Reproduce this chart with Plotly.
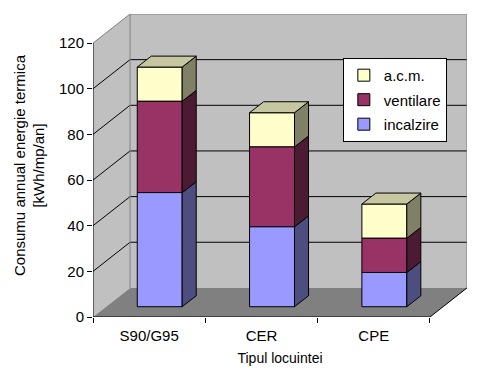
import plotly.graph_objects as go

# ---------------- data ----------------
categories = ["S90/G95", "CER", "CPE"]
incalzire = [50, 35, 15]
ventilare = [40, 35, 15]
acm = [15, 15, 15]
y_ticks = [0, 20, 40, 60, 80, 100, 120]

series = [
    ("incalzire", incalzire, "#9999FF", "#4D4D80"),
    ("ventilare", ventilare, "#993366", "#4D1A33"),
    ("a.c.m.", acm, "#FFFFCC", "#808066"),
]
top_color = "#C6C6A0"

# ---------------- 3D geometry (data units) ----------------
YMAX = 120
DX, DY = 0.33, 12.75        # wall depth offset
BX, BY = 0.094, 4.5         # bar front face offset
BW = 0.4                    # bar width
DDX, DDY = 0.125, 4.8       # bar depth offset
n = len(categories)
FONT = "Liberation Sans, Arial, sans-serif"

fig = go.Figure()

shapes = []
def poly(pts, fill=None, line=None, width=1):
    path = "M " + " L ".join(f"{x},{y}" for x, y in pts) + " Z"
    d = dict(type="path", path=path, xref="x", yref="y", layer="below",
             fillcolor=fill if fill else "rgba(0,0,0,0)",
             line=dict(color=line if line else "rgba(0,0,0,0)", width=width))
    shapes.append(d)

def seg(x0, y0, x1, y1, color, width=1):
    shapes.append(dict(type="line", x0=x0, y0=y0, x1=x1, y1=y1, xref="x", yref="y",
                       layer="below", line=dict(color=color, width=width)))

# walls
poly([(0, 0), (0, YMAX), (DX, YMAX + DY), (DX, DY)], fill="#C0C0C0")
poly([(DX, DY), (DX, YMAX + DY), (n + DX, YMAX + DY), (n + DX, DY)], fill="#C0C0C0")
poly([(0, 0), (n, 0), (n + DX, DY), (DX, DY)], fill="#808080")
# gridlines
for v in y_ticks[1:-1]:
    seg(0, v, DX, v + DY, "black")
    seg(DX, v + DY, n + DX, v + DY, "black")
# wall edges
seg(0, YMAX, DX, YMAX + DY, "#808080")
seg(DX, YMAX + DY, n + DX, YMAX + DY, "#808080")
seg(n + DX, YMAX + DY, n + DX, DY, "#808080")
seg(DX, DY, DX, YMAX + DY, "#808080")
# floor edges
seg(0, 0, n, 0, "black")
seg(n, 0, n + DX, DY, "black")
# value axis line
seg(0, 0, 0, YMAX, "black")

# ---------------- bars ----------------
base = [0] * n
bars = []
for name, vals, front, side in series:
    xs, ys = [], []
    for i, v in enumerate(vals):
        xr = i + 0.5 + BX + BW / 2
        b = base[i] + BY
        t = base[i] + v + BY
        xs += [xr, xr + DDX, xr + DDX, xr, xr, None]
        ys += [b, b + DDY, t + DDY, t, b, None]
    fig.add_trace(go.Scatter(x=xs, y=ys, fill="toself", fillcolor=side, mode="lines",
                             line=dict(color="black", width=1), showlegend=False,
                             hoverinfo="skip"))
    bars.append(go.Bar(
        name=name, x=[i + 0.5 + BX for i in range(n)], y=vals,
        base=[b + BY for b in base], width=BW, legendgroup=name,
        marker=dict(color=front, line=dict(color="black", width=1)),
    ))
    base = [b + v for b, v in zip(base, vals)]

# top faces
xs, ys = [], []
for i in range(n):
    xl = i + 0.5 + BX - BW / 2
    xr = xl + BW
    t = base[i] + BY
    xs += [xl, xr, xr + DDX, xl + DDX, xl, None]
    ys += [t, t, t + DDY, t + DDY, t, None]
fig.add_trace(go.Scatter(x=xs, y=ys, fill="toself", fillcolor=top_color, mode="lines",
                         line=dict(color="black", width=1), showlegend=False,
                         hoverinfo="skip"))

for b in reversed(bars):
    fig.add_trace(b)

# page body has an 8px margin: figure occupies (8..471, 8..366) of the window
fig.update_layout(
    width=463, height=358,
    margin=dict(l=85, r=4, t=6, b=49, autoexpand=False),
    paper_bgcolor="white", plot_bgcolor="white",
    barmode="overlay",
    shapes=shapes,
    font=dict(family=FONT, size=15, color="black"),
    showlegend=True,
    legend=dict(x=0.668, y=0.855, xanchor="left", yanchor="top",
                bgcolor="white", bordercolor="black", borderwidth=1,
                font=dict(size=15), tracegroupgap=2, traceorder="grouped"),
    xaxis=dict(range=[0, n + DX], showgrid=False, zeroline=False, showline=False,
               automargin=False,
               tickvals=[i + 0.5 for i in range(n)], ticktext=categories,
               ticks="", ticklabelstandoff=8,
               minor=dict(tickvals=list(range(n + 1)), ticks="outside", ticklen=5,
                          tickcolor="black", showgrid=False),
               title=dict(text="Tipul locuintei", font=dict(size=14), standoff=12)),
    yaxis=dict(range=[0, YMAX + DY], showgrid=False, zeroline=False, showline=False,
               automargin=False,
               tickvals=y_ticks, ticks="outside", ticklen=5, tickcolor="black",
               title=dict(text="Consumu annual energie termica<br>[kWh/mp/an]",
                          font=dict(size=15), standoff=10)),
)

fig.write_html("out.html")
